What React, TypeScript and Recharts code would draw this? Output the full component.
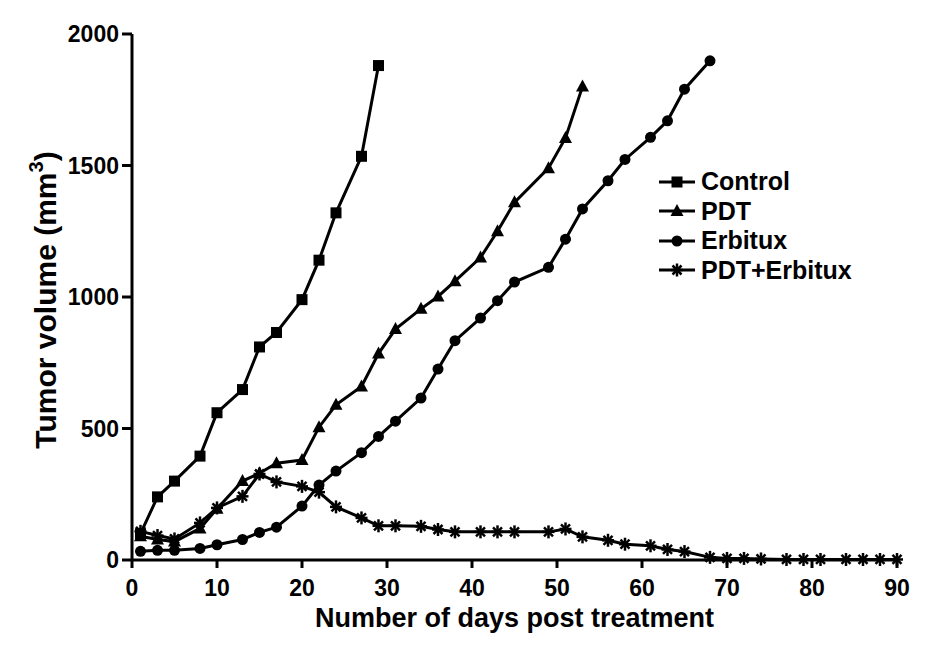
import { Legend, Line, LineChart, XAxis, YAxis } from 'recharts'

const controlDays = [1, 3, 5, 8, 10, 13, 15, 17, 20, 22, 24, 27, 29]
const controlVolume = [100, 240, 300, 395, 560, 648, 810, 865, 990, 1140, 1320, 1535, 1880]

const pdtDays = [1, 3, 5, 8, 10, 13, 15, 17, 20, 22, 24, 27, 29, 31, 34, 36, 38, 41, 43, 45, 49, 51, 53]
const pdtVolume = [90, 78, 70, 120, 195, 300, 330, 368, 380, 505, 590, 660, 785, 878, 955, 1002, 1060, 1150, 1250, 1360, 1490, 1605, 1800]

const erbituxDays = [1, 3, 5, 8, 10, 13, 15, 17, 20, 22, 24, 27, 29, 31, 34, 36, 38, 41, 43, 45, 49, 51, 53, 56, 58, 61, 63, 65, 68]
const erbituxVolume = [33, 37, 37, 44, 58, 78, 105, 125, 205, 285, 338, 408, 470, 528, 616, 726, 834, 920, 986, 1057, 1113, 1220, 1335, 1442, 1523, 1607, 1670, 1790, 1898]

const comboDays = [1, 3, 5, 8, 10, 13, 15, 17, 20, 22, 24, 27, 29, 31, 34, 36, 38, 41, 43, 45, 49, 51, 53, 56, 58, 61, 63, 65, 68, 70, 72, 74, 77, 79, 81, 84, 86, 88, 90]
const comboVolume = [109, 93, 80, 141, 198, 242, 327, 297, 280, 258, 202, 160, 130, 130, 128, 116, 107, 107, 107, 107, 107, 118, 88, 75, 60, 54, 40, 32, 10, 6, 6, 4, 2, 2, 2, 2, 2, 2, 2]

const xTicks = [0, 10, 20, 30, 40, 50, 60, 70, 80, 90]
const yTicks = [0, 500, 1000, 1500, 2000]

const FONT = '"Liberation Sans", Arial, sans-serif'
const INK = '#000'

const toRows = (days: number[], values: number[]) => days.map((day, i) => ({ day, volume: values[i] }))

type MarkerKind = 'square' | 'triangle' | 'circle' | 'star'

function Marker({ kind, cx, cy }: { kind: MarkerKind; cx: number; cy: number }) {
  if (cx == null || cy == null) return null
  if (kind === 'square') return <rect x={cx - 5.5} y={cy - 5.5} width={11} height={11} fill={INK} />
  if (kind === 'triangle')
    return <polygon points={`${cx},${cy - 7} ${cx + 6.5},${cy + 5} ${cx - 6.5},${cy + 5}`} fill={INK} />
  if (kind === 'circle') return <circle cx={cx} cy={cy} r={5.5} fill={INK} />
  return (
    <g stroke={INK} strokeWidth={2.5}>
      <line x1={cx - 6} y1={cy} x2={cx + 6} y2={cy} />
      <line x1={cx} y1={cy - 6.5} x2={cx} y2={cy + 6.5} />
      <line x1={cx - 4.5} y1={cy - 4.5} x2={cx + 4.5} y2={cy + 4.5} />
      <line x1={cx - 4.5} y1={cy + 4.5} x2={cx + 4.5} y2={cy - 4.5} />
    </g>
  )
}

const series: { name: string; kind: MarkerKind; rows: { day: number; volume: number }[] }[] = [
  { name: 'Control', kind: 'square', rows: toRows(controlDays, controlVolume) },
  { name: 'PDT', kind: 'triangle', rows: toRows(pdtDays, pdtVolume) },
  { name: 'Erbitux', kind: 'circle', rows: toRows(erbituxDays, erbituxVolume) },
  { name: 'PDT+Erbitux', kind: 'star', rows: toRows(comboDays, comboVolume) },
]

function LegendBox() {
  return (
    <div style={{ fontFamily: FONT, fontWeight: 'bold', fontSize: 25, color: INK }}>
      {series.map((s) => (
        <div key={s.name} style={{ display: 'flex', alignItems: 'center', height: 29.5 }}>
          <svg width={42} height={20} style={{ marginRight: 2 }}>
            <line x1={2} y1={10} x2={38} y2={10} stroke={INK} strokeWidth={3} />
            <Marker kind={s.kind} cx={20} cy={10} />
          </svg>
          <span>{s.name}</span>
        </div>
      ))}
    </div>
  )
}

function YTitle() {
  return (
    <text
      transform="rotate(-90)"
      x={-300}
      y={56}
      textAnchor="middle"
      fill={INK}
      fontFamily={FONT}
      fontWeight="bold"
      fontSize={30}
    >
      Tumor volume (mm
      <tspan dy={-13} fontSize={20}>
        3
      </tspan>
      <tspan dy={13}>)</tspan>
    </text>
  )
}

export default function App() {
  return (
    <div style={{ position: 'absolute', left: 0, top: 0, width: 936, height: 652, background: '#fff' }}>
      <LineChart width={936} height={652} margin={{ top: 34, right: 39, bottom: 0, left: 0 }}>
        <XAxis
          type="number"
          dataKey="day"
          domain={[0, 90]}
          ticks={xTicks}
          allowDuplicatedCategory={false}
          height={92}
          tickSize={8}
          tickMargin={12}
          axisLine={{ stroke: INK, strokeWidth: 3 }}
          tickLine={{ stroke: INK, strokeWidth: 3 }}
          tick={{ fill: INK, fontSize: 23, fontWeight: 'bold', fontFamily: FONT }}
          label={{
            value: 'Number of days post treatment',
            position: 'insideBottom',
            offset: 25,
            fill: INK,
            fontSize: 27,
            fontWeight: 'bold',
            fontFamily: FONT,
          }}
        />
        <YAxis
          type="number"
          domain={[0, 2000]}
          ticks={yTicks}
          width={132}
          tickSize={10}
          tickMargin={3}
          axisLine={{ stroke: INK, strokeWidth: 3 }}
          tickLine={{ stroke: INK, strokeWidth: 3 }}
          tick={{ fill: INK, fontSize: 23, fontWeight: 'bold', fontFamily: FONT }}
          label={{ content: () => <YTitle /> }}
        />
        <Legend
          layout="vertical"
          align="center"
          verticalAlign="middle"
          content={() => <LegendBox />}
          wrapperStyle={{ left: 657, top: 167, width: 240 }}
        />
        {series.map((s) => (
          <Line
            key={s.name}
            name={s.name}
            data={s.rows}
            dataKey="volume"
            type="linear"
            stroke={INK}
            strokeWidth={3}
            isAnimationActive={false}
            dot={(p: any) => <Marker key={`${s.name}-${p.index}`} kind={s.kind} cx={p.cx} cy={p.cy} />}
            activeDot={false}
          />
        ))}
      </LineChart>
    </div>
  )
}
